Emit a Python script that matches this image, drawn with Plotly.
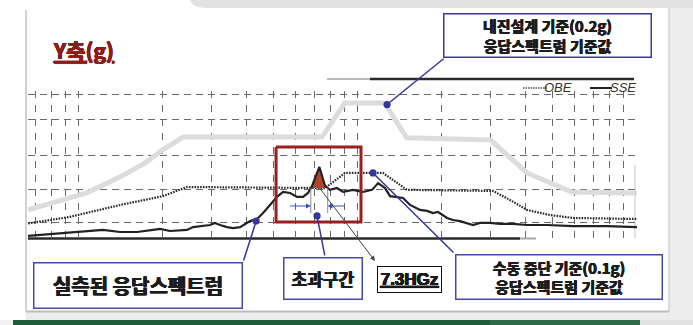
import math
import plotly.graph_objects as go

W, H = 693, 325

# ---- spectra: frequency (Hz) vs spectral acceleration (g) ----
design_freq = [0.66, 0.86, 1.07, 1.41, 1.73, 2.0, 2.37, 7.46, 9.0, 12.5, 15.0, 30.0, 40.5, 58.7, 100.4]
design_g = [0.135, 0.173, 0.200, 0.262, 0.315, 0.365, 0.415, 0.415, 0.546, 0.546, 0.412, 0.404, 0.277, 0.204, 0.200]

obe_freq = [0.66, 0.93, 1.41, 2.01, 2.45, 7.65, 9.02, 12.34, 15.04, 30.6, 35.2, 40.5, 49.0, 59.2, 100.4]
obe_g = [0.083, 0.108, 0.154, 0.188, 0.223, 0.219, 0.277, 0.277, 0.212, 0.208, 0.173, 0.135, 0.115, 0.104, 0.100]

measured_freq = [0.659, 0.810, 1.073, 1.224, 1.408, 1.621, 1.849, 1.959, 2.128, 2.448,
                 2.573, 2.771, 2.960, 3.085, 3.215, 3.406, 3.579, 3.793, 4.119, 4.363,
                 4.585, 4.858, 5.146, 5.408, 5.730, 6.070, 6.378, 6.647, 6.871, 7.30,
                 7.65, 7.97, 8.44, 8.87, 9.63, 10.46, 11.27, 11.85, 12.55, 13.08,
                 13.86, 14.56, 15.43, 16.75, 17.75, 18.65, 19.44, 20.94, 21.99, 23.30,
                 25.94, 27.48, 29.85, 32.42, 36.09, 40.51, 47.78, 59.21, 78.41, 97.17, 100.4]
measured_g = [0.035, 0.042, 0.054, 0.058, 0.050, 0.050, 0.058, 0.062, 0.054, 0.058,
              0.069, 0.073, 0.077, 0.085, 0.077, 0.069, 0.065, 0.069, 0.092, 0.100,
              0.123, 0.154, 0.185, 0.204, 0.200, 0.185, 0.185, 0.200, 0.227, 0.300,
              0.227, 0.212, 0.219, 0.204, 0.212, 0.204, 0.212, 0.238, 0.219, 0.188,
              0.185, 0.181, 0.154, 0.135, 0.131, 0.123, 0.127, 0.104, 0.096, 0.092,
              0.077, 0.085, 0.085, 0.081, 0.081, 0.077, 0.077, 0.073, 0.073, 0.069, 0.069]

# exceedance of the OBE plateau around the 7.3 Hz peak
exceed_freq = [6.80, 6.871, 7.30, 7.65, 7.82]
exceed_g = [0.219, 0.227, 0.300, 0.227, 0.219]

# highlighted window (Hz, g)
window_freq = [5.105, 10.29]
window_g = [0.0885, 0.377]

# grid levels
x_grid_hz = [0.7, 0.8, 0.9, 1, 2, 3, 4, 5, 6, 7, 8, 9, 10, 20, 30, 40, 50, 60, 70, 80, 90, 100]
y_grid_g = [0.085, 0.215, 0.346, 0.481, 0.577]

# callout anchors on the curves (Hz, g)
design_anchor = (12.76, 0.540)
measured_anchor = (4.33, 0.092)
exceed_anchor = (7.16, 0.112)
obe_anchor = (11.36, 0.277)
band_level_g = 0.150

# legend keys
legend_names = ["OBE", "SSE"]


def X(px):
    return px / W


def Y(py):
    return 1 - py / H


KR = "Noto Sans CJK KR"
INK = "#1c1c1c"


def heavy(color, rx=0.45, ry=0.2):
    # thickens the strokes of the glyphs
    return (f"{rx}px 0 0 {color}, -{rx}px 0 0 {color}, "
            f"0 {ry}px 0 {color}, 0 -{ry}px 0 {color}")


fig = go.Figure()

fig.add_trace(go.Scatter(x=design_freq, y=design_g, mode="lines",
                         line=dict(color="#dcdcdc", width=5),
                         showlegend=False, hoverinfo="skip"))
fig.add_trace(go.Scatter(x=obe_freq, y=obe_g, mode="lines", name=legend_names[0],
                         line=dict(color="#2a2a2a", width=2.2, dash="1.6px,1.2px"),
                         showlegend=False))
fig.add_trace(go.Scatter(x=exceed_freq, y=exceed_g, mode="lines", fill="toself",
                         fillcolor="#b5442f", line=dict(color="#5c1a10", width=1),
                         showlegend=False, hoverinfo="skip"))
fig.add_trace(go.Scatter(x=measured_freq, y=measured_g, mode="lines", name=legend_names[1],
                         line=dict(color="#222222", width=2.2), showlegend=False))

# boundaries of the exceedance band
for f in (exceed_freq[0], exceed_freq[-1]):
    fig.add_trace(go.Scatter(x=[f, f], y=[exceed_g[0], 0.123], mode="lines",
                             line=dict(color="#8a8a8a", width=1),
                             showlegend=False, hoverinfo="skip"))

# red window around the peak
fig.add_trace(go.Scatter(
    x=[window_freq[0], window_freq[1], window_freq[1], window_freq[0], window_freq[0]],
    y=[window_g[1], window_g[1], window_g[0], window_g[0], window_g[1]],
    mode="lines", line=dict(color="#9b1f1f", width=3),
    showlegend=False, hoverinfo="skip"))

shapes = []


def rect(x0, y0, x1, y1, fill, line_color=None, lw=0, layer="below"):
    shapes.append(dict(type="rect", xref="paper", yref="paper",
                       x0=X(x0), x1=X(x1), y0=Y(y1), y1=Y(y0),
                       fillcolor=fill, layer=layer,
                       line=dict(color=line_color or fill, width=lw)))


def seg(x0, y0, x1, y1, color, lw, layer="below", dash=None):
    line = dict(color=color, width=lw)
    if dash:
        line["dash"] = dash
    shapes.append(dict(type="line", xref="paper", yref="paper",
                       x0=X(x0), x1=X(x1), y0=Y(y0), y1=Y(y1), layer=layer,
                       line=line))


# slide surroundings
rect(669, 0, 693, 320, "#ededed")
seg(669, 8, 669, 312, "#cfcfcf", 1.5)
shapes.append(dict(type="path", xref="paper", yref="paper", layer="below",
                   path=f"M {X(190)},{Y(0)} L {X(693)},{Y(0)} L {X(693)},{Y(8)} "
                        f"L {X(206)},{Y(8)} Q {X(193)},{Y(8)} {X(190)},{Y(0)} Z",
                   fillcolor="#e2e2e2", line=dict(width=0)))
seg(26, 10, 26, 311, "#d2d2d2", 2)
rect(26, 312, 669, 320, "#ececec")
seg(26, 311.5, 669, 311.5, "#bdbdbd", 2)
rect(0, 320, 13, 325, "#f2f2f2")
rect(13, 320, 490, 325, "#1d5b39")
rect(490, 320, 640, 325, "#2d6b48")
rect(640, 320, 693, 325, "#e2e2e2")

# chart frame
seg(327, 79, 370, 79, "#a0a0a0", 1.5)
seg(370, 79, 634, 79, "#2a2a2a", 2.5)
seg(28, 238.5, 520, 238.5, "#2a2a2a", 2.5)
seg(520, 238.5, 536, 238.5, "#a8a8a8", 2)
seg(635, 165, 635, 238, "#c4c4c4", 1)

# legend keys
seg(523, 88, 547, 88, "#555555", 1.6, layer="above", dash="1.5px,1px")
seg(590, 88, 612, 88, "#222222", 2, layer="above")

# inner border of the frequency label box
rect(379.5, 268.5, 439.5, 290.5, "rgba(0,0,0,0)", "#111111", 1, layer="above")

annotations = []


def box(cx, cy, w, h, text, size, border, family=KR, bw=1.5, shadow=None):
    font = dict(family=family, size=size, color=INK)
    if shadow:
        font["shadow"] = shadow
    annotations.append(dict(xref="paper", yref="paper", x=X(cx), y=Y(cy),
                            xanchor="center", yanchor="middle", showarrow=False,
                            text=text, align="center", font=font,
                            bgcolor="white", bordercolor=border, borderwidth=bw,
                            borderpad=0, width=w - 2 * bw, height=h - 2 * bw))


box(547.5, 35.5, 209, 45, "<b>내진설계 기준(0.2g)<br>응답스펙트럼 기준값</b>", 15, "#3b3b9a",
    shadow=heavy(INK, 0.4, 0.15))
box(138, 285.5, 210, 47, "<b>실측된 응답스펙트럼</b>", 20, "#4848a8",
    shadow=heavy(INK, 0.55, 0.25))
box(323, 278.5, 80, 43, "<b>초과구간</b>", 17, "#4848a8",
    shadow=heavy(INK, 0.45, 0.2))
box(409.5, 279.5, 65, 27, "<b><u>7.3HGz</u></b>", 17, "#111111",
    family="Liberation Sans", bw=1, shadow=heavy("#111111", 0.4, 0.1))
box(559, 277, 208, 46, "<b>수동 중단 기준(0.1g)<br>응답스펙트럼 기준값</b>", 15, "#4848a8",
    shadow=heavy(INK, 0.4, 0.15))

annotations.append(dict(xref="paper", yref="paper", x=X(83), y=Y(50),
                        xanchor="center", yanchor="middle", showarrow=False,
                        text="<b><u>Y축(g)</u></b>",
                        font=dict(family=KR, size=21, color="#8e1b1b",
                                  shadow=heavy("#8e1b1b", 0.35, 0.1))))

# legend labels
for name, cx in zip(legend_names, (558, 623)):
    annotations.append(dict(xref="paper", yref="paper", x=X(cx), y=Y(87),
                            xanchor="center", yanchor="middle", showarrow=False,
                            text=f"<i>{name}</i>",
                            font=dict(family="Liberation Sans Narrow, Liberation Sans",
                                      size=13, color="#333333")))


def callout(freq, g, ax, ay, color="#3535a0", head=6, size=1.2, width=1.5):
    annotations.append(dict(xref="x", yref="y", x=math.log10(freq), y=g,
                            text="", showarrow=True, arrowhead=head,
                            arrowsize=size, arrowwidth=width, arrowcolor=color,
                            ax=ax, ay=ay, standoff=0, startstandoff=0))


callout(*design_anchor, 58, -47)
callout(*measured_anchor, -13, 41)
callout(*exceed_anchor, 8, 41)
callout(*obe_anchor, 82, 81)
callout(exceed_freq[0], band_level_g, -22, 0, color="#3050c0", head=2, size=0.8, width=1.2)
callout(exceed_freq[-1], band_level_g, 18, 0, color="#3050c0", head=2, size=0.8, width=1.2)

# pointer from the peak to the frequency label
annotations.append(dict(xref="paper", yref="paper", x=X(375), y=Y(261),
                        text="", showarrow=True, arrowhead=2, arrowsize=1,
                        arrowwidth=1, arrowcolor="#444444", ax=-57, ay=-75,
                        standoff=0, startstandoff=0))

fig.update_layout(
    template="none",
    width=W, height=H,
    margin=dict(l=0, r=0, t=0, b=0),
    paper_bgcolor="white",
    plot_bgcolor="rgba(0,0,0,0)",
    xaxis=dict(type="log", range=[math.log10(0.659), math.log10(100.4)],
               domain=[X(28), X(637)], tickvals=x_grid_hz, showticklabels=False,
               ticks="", showgrid=True, gridcolor="#6a6a6a", gridwidth=1.2,
               griddash="7px,7px", zeroline=False, showline=False),
    yaxis=dict(range=[0.027, 0.592], domain=[Y(238), Y(91)], tickvals=y_grid_g,
               showticklabels=False, ticks="", showgrid=True, gridcolor="#6a6a6a",
               gridwidth=1.2, griddash="7px,5px", zeroline=False, showline=False),
    showlegend=False,
    shapes=shapes,
    annotations=annotations,
)

fig.write_html("out.html")
